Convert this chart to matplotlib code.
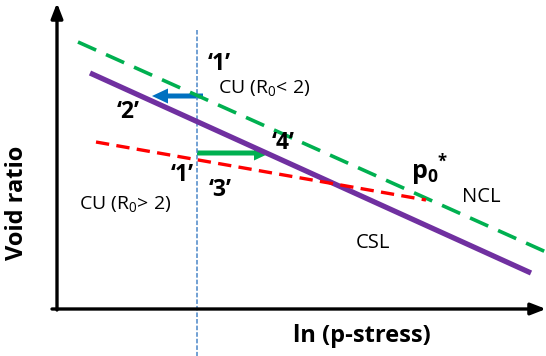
import matplotlib
matplotlib.use("Agg")
import matplotlib.pyplot as plt
from matplotlib.patches import FancyArrow

plt.rcParams["mathtext.default"] = "regular"

# Schematic data (in a drawing coordinate system of the figure)
ncl_x = [78, 546]
ncl_y = [42, 252]
csl_x = [90, 531]
csl_y = [73, 273]
red_x = [96, 426]
red_y = [142, 200]
vline_x = 197
vline_y = [30, 356]
blue_arrow = [203, 96, 152, 96]   # x0, y0, x1, y1
green_arrow = [197, 153, 270, 153]

FONT = "Open Sans"

fig = plt.figure(figsize=(5.46, 3.56), dpi=100)
ax = fig.add_axes([0, 0, 1, 1])
ax.set_xlim(0, 546)
ax.set_ylim(356, 0)
ax.axis("off")

# axes arrows
ax.annotate("", xy=(57, 3), xytext=(57, 310),
            arrowprops=dict(arrowstyle="-|>,head_length=0.9,head_width=0.35", lw=2.4, color="black",
                            shrinkA=0, shrinkB=0))
ax.annotate("", xy=(546, 309), xytext=(52, 309),
            arrowprops=dict(arrowstyle="-|>,head_length=0.9,head_width=0.35", lw=2.4, color="black",
                            shrinkA=0, shrinkB=0))

# vertical blue dotted line
ax.plot([vline_x, vline_x], vline_y, color="#4A86C8", lw=1.1, ls=(0, (3, 1.3)))

# NCL
ax.plot(ncl_x, ncl_y, color="#00B050", lw=2.6, ls=(0, (5.5, 3)), solid_capstyle="butt")
# CSL
ax.plot(csl_x, csl_y, color="#7030A0", lw=3.8, solid_capstyle="butt")
# red line
ax.plot(red_x, red_y, color="#FF0000", lw=2.4, ls=(0, (4, 2.2)))

# arrows
def arrow(a, color):
    x0, y0, x1, y1 = a
    ax.add_patch(FancyArrow(x0, y0, x1 - x0, y1 - y0, width=5, head_width=15,
                            head_length=16, length_includes_head=True,
                            color=color, lw=0))

arrow(blue_arrow, "#0070C0")
arrow(green_arrow, "#00B050")

bold = dict(fontfamily=FONT, fontweight="bold", color="black")
norm = dict(fontfamily=FONT, color="black")

q = 16.5
ax.text(219, 64, "\u20181\u2019", fontsize=q, ha="center", va="center", **bold)
ax.text(218, 88, r"CU (R$_0$< 2)", fontsize=14, ha="left", va="center", **norm)
ax.text(128, 112, "\u20182\u2019", fontsize=q, ha="center", va="center", **bold)
ax.text(283, 143, "\u20184\u2019", fontsize=q, ha="center", va="center", **bold)
ax.text(182, 175, "\u20181\u2019", fontsize=q, ha="center", va="center", **bold)
ax.text(220, 190, "\u20183\u2019", fontsize=q, ha="center", va="center", **bold)
ax.text(79, 204, r"CU (R$_0$> 2)", fontsize=14, ha="left", va="center", **norm)
ax.text(411, 173, r"p$_0$", fontsize=18, ha="left", va="center", **bold)
ax.text(442, 162, "*", fontsize=12, ha="center", va="center", **bold)
ax.text(481, 197, "NCL", fontsize=14.5, ha="center", va="center", **norm)
ax.text(373, 243, "CSL", fontsize=14.5, ha="center", va="center", **norm)

ax.text(17, 203, "Void ratio", fontsize=17, rotation=90, ha="center", va="center", **bold)
ax.text(362, 336, "ln (p-stress)", fontsize=17, ha="center", va="center", **bold)

fig.savefig("out.png", dpi=100)
